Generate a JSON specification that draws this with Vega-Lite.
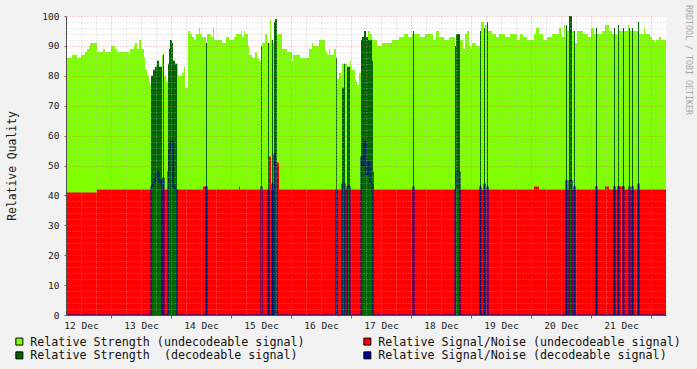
{
  "$schema": "https://vega.github.io/schema/vega-lite/v6.json",
  "width": 600,
  "height": 299,
  "autosize": {"type": "none"},
  "padding": {"left": 66, "top": 16, "right": 31, "bottom": 54},
  "background": "#f2f2f2",
  "view": {"fill": "#ffffff", "stroke": null},
  "config": {"font": "DejaVu Sans Mono"},
  "title": {
    "text": "RRDTOOL / TOBI OETIKER",
    "orient": "right",
    "anchor": "start",
    "font": "DejaVu Sans Mono",
    "fontSize": 8.3,
    "fontWeight": "normal",
    "color": "#a8a8a8",
    "offset": 3,
    "dx": -6
  },
  "data": {
    "values": [
      {"t": "2011-12-12T06:00", "strength": 86, "snr": 41, "dec_strength": 0, "dec_snr": 0},
      {"t": "2011-12-12T08:24", "strength": 87, "snr": 41, "dec_strength": 0, "dec_snr": 0},
      {"t": "2011-12-12T10:24", "strength": 86, "snr": 41, "dec_strength": 0, "dec_snr": 0},
      {"t": "2011-12-12T12:00", "strength": 87, "snr": 41, "dec_strength": 0, "dec_snr": 0},
      {"t": "2011-12-12T13:36", "strength": 88, "snr": 41, "dec_strength": 0, "dec_snr": 0},
      {"t": "2011-12-12T14:24", "strength": 89, "snr": 41, "dec_strength": 0, "dec_snr": 0},
      {"t": "2011-12-12T15:12", "strength": 90, "snr": 41, "dec_strength": 0, "dec_snr": 0},
      {"t": "2011-12-12T15:36", "strength": 91, "snr": 41, "dec_strength": 0, "dec_snr": 0},
      {"t": "2011-12-12T18:24", "strength": 88, "snr": 42, "dec_strength": 0, "dec_snr": 0},
      {"t": "2011-12-12T20:48", "strength": 89, "snr": 42, "dec_strength": 0, "dec_snr": 0},
      {"t": "2011-12-12T21:36", "strength": 88, "snr": 42, "dec_strength": 0, "dec_snr": 0},
      {"t": "2011-12-13T00:00", "strength": 90, "snr": 42, "dec_strength": 0, "dec_snr": 0},
      {"t": "2011-12-13T01:36", "strength": 89, "snr": 42, "dec_strength": 0, "dec_snr": 0},
      {"t": "2011-12-13T02:24", "strength": 88, "snr": 42, "dec_strength": 0, "dec_snr": 0},
      {"t": "2011-12-13T07:12", "strength": 87, "snr": 42, "dec_strength": 0, "dec_snr": 0},
      {"t": "2011-12-13T07:36", "strength": 89, "snr": 42, "dec_strength": 0, "dec_snr": 0},
      {"t": "2011-12-13T09:12", "strength": 90, "snr": 42, "dec_strength": 0, "dec_snr": 0},
      {"t": "2011-12-13T09:36", "strength": 91, "snr": 42, "dec_strength": 0, "dec_snr": 0},
      {"t": "2011-12-13T10:24", "strength": 89, "snr": 42, "dec_strength": 0, "dec_snr": 0},
      {"t": "2011-12-13T11:12", "strength": 92, "snr": 42, "dec_strength": 0, "dec_snr": 0},
      {"t": "2011-12-13T12:00", "strength": 89, "snr": 42, "dec_strength": 0, "dec_snr": 0},
      {"t": "2011-12-13T13:12", "strength": 86, "snr": 42, "dec_strength": 0, "dec_snr": 0},
      {"t": "2011-12-13T13:36", "strength": 82, "snr": 42, "dec_strength": 0, "dec_snr": 0},
      {"t": "2011-12-13T14:24", "strength": 80, "snr": 42, "dec_strength": 0, "dec_snr": 0},
      {"t": "2011-12-13T15:12", "strength": 78, "snr": 42, "dec_strength": 0, "dec_snr": 0},
      {"t": "2011-12-13T15:36", "strength": 77, "snr": 42, "dec_strength": 0, "dec_snr": 0},
      {"t": "2011-12-13T16:00", "strength": 80, "snr": 42, "dec_strength": 80, "dec_snr": 43},
      {"t": "2011-12-13T16:48", "strength": 82, "snr": 42, "dec_strength": 82, "dec_snr": 44},
      {"t": "2011-12-13T17:36", "strength": 83, "snr": 42, "dec_strength": 83, "dec_snr": 46},
      {"t": "2011-12-13T18:24", "strength": 85, "snr": 42, "dec_strength": 85, "dec_snr": 48},
      {"t": "2011-12-13T19:12", "strength": 83, "snr": 42, "dec_strength": 83, "dec_snr": 44},
      {"t": "2011-12-13T20:00", "strength": 83, "snr": 42, "dec_strength": 83, "dec_snr": 45},
      {"t": "2011-12-13T20:24", "strength": 87, "snr": 42, "dec_strength": 0, "dec_snr": 0},
      {"t": "2011-12-13T20:48", "strength": 87, "snr": 42, "dec_strength": 87, "dec_snr": 46},
      {"t": "2011-12-13T21:12", "strength": 80, "snr": 42, "dec_strength": 0, "dec_snr": 0},
      {"t": "2011-12-13T22:00", "strength": 78, "snr": 42, "dec_strength": 0, "dec_snr": 0},
      {"t": "2011-12-13T22:48", "strength": 84, "snr": 42, "dec_strength": 84, "dec_snr": 48},
      {"t": "2011-12-13T23:12", "strength": 89, "snr": 42, "dec_strength": 89, "dec_snr": 55},
      {"t": "2011-12-13T23:36", "strength": 92, "snr": 42, "dec_strength": 92, "dec_snr": 58},
      {"t": "2011-12-14T00:24", "strength": 91, "snr": 42, "dec_strength": 91, "dec_snr": 58},
      {"t": "2011-12-14T00:48", "strength": 85, "snr": 42, "dec_strength": 85, "dec_snr": 43},
      {"t": "2011-12-14T01:36", "strength": 84, "snr": 42, "dec_strength": 84, "dec_snr": 42},
      {"t": "2011-12-14T02:24", "strength": 84, "snr": 42, "dec_strength": 0, "dec_snr": 0},
      {"t": "2011-12-14T02:48", "strength": 80, "snr": 42, "dec_strength": 0, "dec_snr": 0},
      {"t": "2011-12-14T04:24", "strength": 81, "snr": 42, "dec_strength": 0, "dec_snr": 0},
      {"t": "2011-12-14T05:12", "strength": 83, "snr": 42, "dec_strength": 0, "dec_snr": 0},
      {"t": "2011-12-14T05:36", "strength": 76, "snr": 42, "dec_strength": 0, "dec_snr": 0},
      {"t": "2011-12-14T06:48", "strength": 95, "snr": 42, "dec_strength": 0, "dec_snr": 0},
      {"t": "2011-12-14T07:36", "strength": 94, "snr": 42, "dec_strength": 0, "dec_snr": 0},
      {"t": "2011-12-14T08:24", "strength": 93, "snr": 42, "dec_strength": 0, "dec_snr": 0},
      {"t": "2011-12-14T09:12", "strength": 92, "snr": 42, "dec_strength": 0, "dec_snr": 0},
      {"t": "2011-12-14T10:00", "strength": 94, "snr": 42, "dec_strength": 0, "dec_snr": 0},
      {"t": "2011-12-14T11:12", "strength": 96, "snr": 42, "dec_strength": 0, "dec_snr": 0},
      {"t": "2011-12-14T11:36", "strength": 94, "snr": 42, "dec_strength": 0, "dec_snr": 0},
      {"t": "2011-12-14T12:24", "strength": 93, "snr": 42, "dec_strength": 0, "dec_snr": 0},
      {"t": "2011-12-14T12:48", "strength": 93, "snr": 43, "dec_strength": 0, "dec_snr": 0},
      {"t": "2011-12-14T14:00", "strength": 91, "snr": 43, "dec_strength": 91, "dec_snr": 43},
      {"t": "2011-12-14T14:24", "strength": 94, "snr": 42, "dec_strength": 0, "dec_snr": 0},
      {"t": "2011-12-14T16:00", "strength": 93, "snr": 42, "dec_strength": 0, "dec_snr": 0},
      {"t": "2011-12-14T16:48", "strength": 96, "snr": 42, "dec_strength": 0, "dec_snr": 0},
      {"t": "2011-12-14T17:12", "strength": 92, "snr": 42, "dec_strength": 0, "dec_snr": 0},
      {"t": "2011-12-14T20:24", "strength": 91, "snr": 42, "dec_strength": 0, "dec_snr": 0},
      {"t": "2011-12-14T22:00", "strength": 93, "snr": 42, "dec_strength": 0, "dec_snr": 0},
      {"t": "2011-12-14T23:12", "strength": 92, "snr": 42, "dec_strength": 0, "dec_snr": 0},
      {"t": "2011-12-15T01:12", "strength": 93, "snr": 42, "dec_strength": 0, "dec_snr": 0},
      {"t": "2011-12-15T02:00", "strength": 94, "snr": 42, "dec_strength": 0, "dec_snr": 0},
      {"t": "2011-12-15T03:12", "strength": 94, "snr": 43, "dec_strength": 0, "dec_snr": 0},
      {"t": "2011-12-15T03:36", "strength": 94, "snr": 42, "dec_strength": 0, "dec_snr": 0},
      {"t": "2011-12-15T04:00", "strength": 95, "snr": 42, "dec_strength": 0, "dec_snr": 0},
      {"t": "2011-12-15T04:24", "strength": 93, "snr": 42, "dec_strength": 0, "dec_snr": 0},
      {"t": "2011-12-15T05:12", "strength": 95, "snr": 42, "dec_strength": 0, "dec_snr": 0},
      {"t": "2011-12-15T05:36", "strength": 94, "snr": 42, "dec_strength": 0, "dec_snr": 0},
      {"t": "2011-12-15T06:48", "strength": 90, "snr": 42, "dec_strength": 0, "dec_snr": 0},
      {"t": "2011-12-15T07:12", "strength": 87, "snr": 42, "dec_strength": 0, "dec_snr": 0},
      {"t": "2011-12-15T08:24", "strength": 86, "snr": 42, "dec_strength": 0, "dec_snr": 0},
      {"t": "2011-12-15T09:36", "strength": 88, "snr": 42, "dec_strength": 0, "dec_snr": 0},
      {"t": "2011-12-15T10:24", "strength": 86, "snr": 42, "dec_strength": 0, "dec_snr": 0},
      {"t": "2011-12-15T11:12", "strength": 85, "snr": 42, "dec_strength": 0, "dec_snr": 0},
      {"t": "2011-12-15T12:00", "strength": 90, "snr": 42, "dec_strength": 90, "dec_snr": 43},
      {"t": "2011-12-15T12:24", "strength": 91, "snr": 42, "dec_strength": 0, "dec_snr": 0},
      {"t": "2011-12-15T13:36", "strength": 94, "snr": 42, "dec_strength": 0, "dec_snr": 0},
      {"t": "2011-12-15T14:24", "strength": 91, "snr": 42, "dec_strength": 0, "dec_snr": 0},
      {"t": "2011-12-15T14:48", "strength": 91, "snr": 42, "dec_strength": 91, "dec_snr": 42},
      {"t": "2011-12-15T15:12", "strength": 91, "snr": 53, "dec_strength": 0, "dec_snr": 0},
      {"t": "2011-12-15T15:36", "strength": 99, "snr": 53, "dec_strength": 0, "dec_snr": 0},
      {"t": "2011-12-15T16:00", "strength": 92, "snr": 42, "dec_strength": 0, "dec_snr": 0},
      {"t": "2011-12-15T16:24", "strength": 92, "snr": 42, "dec_strength": 92, "dec_snr": 44},
      {"t": "2011-12-15T16:48", "strength": 91, "snr": 42, "dec_strength": 0, "dec_snr": 0},
      {"t": "2011-12-15T17:12", "strength": 98, "snr": 42, "dec_strength": 98, "dec_snr": 54},
      {"t": "2011-12-15T17:36", "strength": 99, "snr": 42, "dec_strength": 99, "dec_snr": 50},
      {"t": "2011-12-15T18:24", "strength": 94, "snr": 51, "dec_strength": 0, "dec_snr": 0},
      {"t": "2011-12-15T19:12", "strength": 94, "snr": 42, "dec_strength": 0, "dec_snr": 0},
      {"t": "2011-12-15T20:24", "strength": 89, "snr": 42, "dec_strength": 0, "dec_snr": 0},
      {"t": "2011-12-15T22:24", "strength": 88, "snr": 42, "dec_strength": 0, "dec_snr": 0},
      {"t": "2011-12-16T00:24", "strength": 85, "snr": 42, "dec_strength": 0, "dec_snr": 0},
      {"t": "2011-12-16T00:48", "strength": 87, "snr": 42, "dec_strength": 0, "dec_snr": 0},
      {"t": "2011-12-16T03:36", "strength": 86, "snr": 42, "dec_strength": 0, "dec_snr": 0},
      {"t": "2011-12-16T07:12", "strength": 89, "snr": 42, "dec_strength": 0, "dec_snr": 0},
      {"t": "2011-12-16T08:24", "strength": 91, "snr": 42, "dec_strength": 0, "dec_snr": 0},
      {"t": "2011-12-16T08:48", "strength": 90, "snr": 42, "dec_strength": 0, "dec_snr": 0},
      {"t": "2011-12-16T11:12", "strength": 92, "snr": 42, "dec_strength": 0, "dec_snr": 0},
      {"t": "2011-12-16T13:36", "strength": 88, "snr": 42, "dec_strength": 0, "dec_snr": 0},
      {"t": "2011-12-16T14:24", "strength": 87, "snr": 42, "dec_strength": 0, "dec_snr": 0},
      {"t": "2011-12-16T15:12", "strength": 89, "snr": 42, "dec_strength": 0, "dec_snr": 0},
      {"t": "2011-12-16T15:36", "strength": 87, "snr": 42, "dec_strength": 0, "dec_snr": 0},
      {"t": "2011-12-16T17:12", "strength": 89, "snr": 42, "dec_strength": 0, "dec_snr": 0},
      {"t": "2011-12-16T18:00", "strength": 86, "snr": 42, "dec_strength": 86, "dec_snr": 42},
      {"t": "2011-12-16T18:24", "strength": 79, "snr": 42, "dec_strength": 0, "dec_snr": 0},
      {"t": "2011-12-16T19:12", "strength": 81, "snr": 42, "dec_strength": 0, "dec_snr": 0},
      {"t": "2011-12-16T20:00", "strength": 80, "snr": 42, "dec_strength": 0, "dec_snr": 0},
      {"t": "2011-12-16T20:24", "strength": 84, "snr": 42, "dec_strength": 76, "dec_snr": 44},
      {"t": "2011-12-16T21:12", "strength": 84, "snr": 42, "dec_strength": 84, "dec_snr": 44},
      {"t": "2011-12-16T21:36", "strength": 84, "snr": 42, "dec_strength": 0, "dec_snr": 0},
      {"t": "2011-12-16T22:24", "strength": 83, "snr": 42, "dec_strength": 83, "dec_snr": 43},
      {"t": "2011-12-16T23:36", "strength": 85, "snr": 42, "dec_strength": 0, "dec_snr": 0},
      {"t": "2011-12-17T00:00", "strength": 82, "snr": 42, "dec_strength": 0, "dec_snr": 0},
      {"t": "2011-12-17T01:36", "strength": 79, "snr": 42, "dec_strength": 0, "dec_snr": 0},
      {"t": "2011-12-17T02:00", "strength": 78, "snr": 42, "dec_strength": 0, "dec_snr": 0},
      {"t": "2011-12-17T02:24", "strength": 77, "snr": 42, "dec_strength": 0, "dec_snr": 0},
      {"t": "2011-12-17T03:12", "strength": 81, "snr": 42, "dec_strength": 0, "dec_snr": 0},
      {"t": "2011-12-17T04:00", "strength": 92, "snr": 42, "dec_strength": 92, "dec_snr": 53},
      {"t": "2011-12-17T04:24", "strength": 93, "snr": 42, "dec_strength": 93, "dec_snr": 50},
      {"t": "2011-12-17T05:12", "strength": 95, "snr": 42, "dec_strength": 95, "dec_snr": 58},
      {"t": "2011-12-17T06:00", "strength": 93, "snr": 42, "dec_strength": 93, "dec_snr": 47},
      {"t": "2011-12-17T06:48", "strength": 95, "snr": 42, "dec_strength": 92, "dec_snr": 51},
      {"t": "2011-12-17T07:36", "strength": 94, "snr": 42, "dec_strength": 92, "dec_snr": 44},
      {"t": "2011-12-17T08:24", "strength": 92, "snr": 42, "dec_strength": 85, "dec_snr": 44},
      {"t": "2011-12-17T08:48", "strength": 92, "snr": 48, "dec_strength": 0, "dec_snr": 0},
      {"t": "2011-12-17T09:12", "strength": 92, "snr": 42, "dec_strength": 0, "dec_snr": 0},
      {"t": "2011-12-17T10:24", "strength": 90, "snr": 42, "dec_strength": 0, "dec_snr": 0},
      {"t": "2011-12-17T12:24", "strength": 91, "snr": 42, "dec_strength": 0, "dec_snr": 0},
      {"t": "2011-12-17T16:24", "strength": 92, "snr": 42, "dec_strength": 0, "dec_snr": 0},
      {"t": "2011-12-17T19:12", "strength": 93, "snr": 42, "dec_strength": 0, "dec_snr": 0},
      {"t": "2011-12-17T21:12", "strength": 94, "snr": 42, "dec_strength": 0, "dec_snr": 0},
      {"t": "2011-12-17T22:48", "strength": 93, "snr": 42, "dec_strength": 0, "dec_snr": 0},
      {"t": "2011-12-18T00:24", "strength": 94, "snr": 42, "dec_strength": 0, "dec_snr": 0},
      {"t": "2011-12-18T00:48", "strength": 95, "snr": 42, "dec_strength": 95, "dec_snr": 43},
      {"t": "2011-12-18T01:12", "strength": 94, "snr": 42, "dec_strength": 0, "dec_snr": 0},
      {"t": "2011-12-18T03:36", "strength": 93, "snr": 42, "dec_strength": 0, "dec_snr": 0},
      {"t": "2011-12-18T05:36", "strength": 94, "snr": 42, "dec_strength": 0, "dec_snr": 0},
      {"t": "2011-12-18T08:48", "strength": 92, "snr": 42, "dec_strength": 0, "dec_snr": 0},
      {"t": "2011-12-18T10:00", "strength": 95, "snr": 42, "dec_strength": 0, "dec_snr": 0},
      {"t": "2011-12-18T11:12", "strength": 93, "snr": 42, "dec_strength": 0, "dec_snr": 0},
      {"t": "2011-12-18T13:12", "strength": 92, "snr": 42, "dec_strength": 0, "dec_snr": 0},
      {"t": "2011-12-18T15:12", "strength": 93, "snr": 42, "dec_strength": 0, "dec_snr": 0},
      {"t": "2011-12-18T17:36", "strength": 90, "snr": 42, "dec_strength": 90, "dec_snr": 42},
      {"t": "2011-12-18T18:00", "strength": 94, "snr": 42, "dec_strength": 94, "dec_snr": 48},
      {"t": "2011-12-18T19:36", "strength": 92, "snr": 42, "dec_strength": 0, "dec_snr": 0},
      {"t": "2011-12-18T20:48", "strength": 89, "snr": 42, "dec_strength": 0, "dec_snr": 0},
      {"t": "2011-12-18T21:36", "strength": 94, "snr": 42, "dec_strength": 0, "dec_snr": 0},
      {"t": "2011-12-18T22:24", "strength": 95, "snr": 42, "dec_strength": 0, "dec_snr": 0},
      {"t": "2011-12-18T23:12", "strength": 90, "snr": 42, "dec_strength": 0, "dec_snr": 0},
      {"t": "2011-12-19T00:00", "strength": 89, "snr": 42, "dec_strength": 0, "dec_snr": 0},
      {"t": "2011-12-19T00:24", "strength": 91, "snr": 42, "dec_strength": 0, "dec_snr": 0},
      {"t": "2011-12-19T02:00", "strength": 90, "snr": 42, "dec_strength": 0, "dec_snr": 0},
      {"t": "2011-12-19T03:36", "strength": 95, "snr": 42, "dec_strength": 95, "dec_snr": 43},
      {"t": "2011-12-19T04:00", "strength": 98, "snr": 42, "dec_strength": 0, "dec_snr": 0},
      {"t": "2011-12-19T05:12", "strength": 96, "snr": 42, "dec_strength": 96, "dec_snr": 44},
      {"t": "2011-12-19T05:36", "strength": 97, "snr": 42, "dec_strength": 0, "dec_snr": 0},
      {"t": "2011-12-19T06:24", "strength": 98, "snr": 42, "dec_strength": 98, "dec_snr": 43},
      {"t": "2011-12-19T06:48", "strength": 95, "snr": 42, "dec_strength": 0, "dec_snr": 0},
      {"t": "2011-12-19T08:24", "strength": 94, "snr": 42, "dec_strength": 0, "dec_snr": 0},
      {"t": "2011-12-19T10:00", "strength": 93, "snr": 42, "dec_strength": 0, "dec_snr": 0},
      {"t": "2011-12-19T11:12", "strength": 94, "snr": 42, "dec_strength": 0, "dec_snr": 0},
      {"t": "2011-12-19T13:36", "strength": 93, "snr": 42, "dec_strength": 0, "dec_snr": 0},
      {"t": "2011-12-19T15:36", "strength": 94, "snr": 42, "dec_strength": 0, "dec_snr": 0},
      {"t": "2011-12-19T18:24", "strength": 92, "snr": 42, "dec_strength": 0, "dec_snr": 0},
      {"t": "2011-12-19T19:36", "strength": 94, "snr": 42, "dec_strength": 0, "dec_snr": 0},
      {"t": "2011-12-19T20:48", "strength": 93, "snr": 42, "dec_strength": 0, "dec_snr": 0},
      {"t": "2011-12-19T22:24", "strength": 92, "snr": 42, "dec_strength": 0, "dec_snr": 0},
      {"t": "2011-12-20T01:12", "strength": 94, "snr": 43, "dec_strength": 0, "dec_snr": 0},
      {"t": "2011-12-20T02:00", "strength": 96, "snr": 43, "dec_strength": 0, "dec_snr": 0},
      {"t": "2011-12-20T03:12", "strength": 94, "snr": 42, "dec_strength": 0, "dec_snr": 0},
      {"t": "2011-12-20T04:48", "strength": 92, "snr": 42, "dec_strength": 0, "dec_snr": 0},
      {"t": "2011-12-20T06:24", "strength": 93, "snr": 42, "dec_strength": 0, "dec_snr": 0},
      {"t": "2011-12-20T08:24", "strength": 94, "snr": 42, "dec_strength": 0, "dec_snr": 0},
      {"t": "2011-12-20T11:12", "strength": 96, "snr": 42, "dec_strength": 0, "dec_snr": 0},
      {"t": "2011-12-20T12:00", "strength": 94, "snr": 42, "dec_strength": 0, "dec_snr": 0},
      {"t": "2011-12-20T12:24", "strength": 93, "snr": 42, "dec_strength": 0, "dec_snr": 0},
      {"t": "2011-12-20T13:12", "strength": 97, "snr": 42, "dec_strength": 0, "dec_snr": 0},
      {"t": "2011-12-20T13:36", "strength": 93, "snr": 42, "dec_strength": 0, "dec_snr": 0},
      {"t": "2011-12-20T14:00", "strength": 97, "snr": 42, "dec_strength": 97, "dec_snr": 45},
      {"t": "2011-12-20T14:24", "strength": 95, "snr": 42, "dec_strength": 0, "dec_snr": 0},
      {"t": "2011-12-20T15:12", "strength": 100, "snr": 42, "dec_strength": 100, "dec_snr": 45},
      {"t": "2011-12-20T16:24", "strength": 95, "snr": 42, "dec_strength": 0, "dec_snr": 0},
      {"t": "2011-12-20T17:12", "strength": 95, "snr": 42, "dec_strength": 95, "dec_snr": 43},
      {"t": "2011-12-20T17:36", "strength": 91, "snr": 42, "dec_strength": 0, "dec_snr": 0},
      {"t": "2011-12-20T18:24", "strength": 95, "snr": 42, "dec_strength": 0, "dec_snr": 0},
      {"t": "2011-12-20T20:48", "strength": 94, "snr": 42, "dec_strength": 0, "dec_snr": 0},
      {"t": "2011-12-20T22:48", "strength": 93, "snr": 42, "dec_strength": 0, "dec_snr": 0},
      {"t": "2011-12-21T00:00", "strength": 96, "snr": 42, "dec_strength": 0, "dec_snr": 0},
      {"t": "2011-12-21T01:12", "strength": 94, "snr": 42, "dec_strength": 0, "dec_snr": 0},
      {"t": "2011-12-21T02:00", "strength": 96, "snr": 42, "dec_strength": 96, "dec_snr": 43},
      {"t": "2011-12-21T02:24", "strength": 94, "snr": 42, "dec_strength": 0, "dec_snr": 0},
      {"t": "2011-12-21T04:24", "strength": 95, "snr": 42, "dec_strength": 0, "dec_snr": 0},
      {"t": "2011-12-21T05:36", "strength": 97, "snr": 43, "dec_strength": 0, "dec_snr": 0},
      {"t": "2011-12-21T07:12", "strength": 95, "snr": 42, "dec_strength": 0, "dec_snr": 0},
      {"t": "2011-12-21T08:24", "strength": 94, "snr": 42, "dec_strength": 0, "dec_snr": 0},
      {"t": "2011-12-21T09:12", "strength": 96, "snr": 42, "dec_strength": 96, "dec_snr": 43},
      {"t": "2011-12-21T09:36", "strength": 94, "snr": 42, "dec_strength": 0, "dec_snr": 0},
      {"t": "2011-12-21T10:48", "strength": 97, "snr": 42, "dec_strength": 97, "dec_snr": 43},
      {"t": "2011-12-21T11:12", "strength": 95, "snr": 43, "dec_strength": 0, "dec_snr": 0},
      {"t": "2011-12-21T12:48", "strength": 96, "snr": 43, "dec_strength": 96, "dec_snr": 43},
      {"t": "2011-12-21T13:12", "strength": 95, "snr": 42, "dec_strength": 0, "dec_snr": 0},
      {"t": "2011-12-21T14:48", "strength": 97, "snr": 42, "dec_strength": 0, "dec_snr": 0},
      {"t": "2011-12-21T15:12", "strength": 96, "snr": 42, "dec_strength": 96, "dec_snr": 43},
      {"t": "2011-12-21T15:36", "strength": 95, "snr": 42, "dec_strength": 0, "dec_snr": 0},
      {"t": "2011-12-21T16:24", "strength": 96, "snr": 42, "dec_strength": 96, "dec_snr": 43},
      {"t": "2011-12-21T16:48", "strength": 95, "snr": 42, "dec_strength": 0, "dec_snr": 0},
      {"t": "2011-12-21T18:48", "strength": 98, "snr": 42, "dec_strength": 98, "dec_snr": 44},
      {"t": "2011-12-21T19:12", "strength": 94, "snr": 42, "dec_strength": 0, "dec_snr": 0},
      {"t": "2011-12-21T21:12", "strength": 96, "snr": 42, "dec_strength": 0, "dec_snr": 0},
      {"t": "2011-12-21T21:36", "strength": 94, "snr": 42, "dec_strength": 0, "dec_snr": 0},
      {"t": "2011-12-21T23:36", "strength": 93, "snr": 42, "dec_strength": 0, "dec_snr": 0},
      {"t": "2011-12-22T00:24", "strength": 92, "snr": 42, "dec_strength": 0, "dec_snr": 0},
      {"t": "2011-12-22T01:36", "strength": 91, "snr": 42, "dec_strength": 0, "dec_snr": 0},
      {"t": "2011-12-22T02:00", "strength": 92, "snr": 42, "dec_strength": 0, "dec_snr": 0},
      {"t": "2011-12-22T03:12", "strength": 93, "snr": 42, "dec_strength": 0, "dec_snr": 0},
      {"t": "2011-12-22T04:00", "strength": 92, "snr": 42, "dec_strength": 0, "dec_snr": 0},
      {"t": "2011-12-22T06:00", "strength": 92, "snr": 42, "dec_strength": 0, "dec_snr": 0}
    ]
  },
  "encoding": {
    "x": {
      "field": "t",
      "type": "temporal",
      "title": null,
      "scale": {
        "domain": [
          {"year": 2011, "month": 12, "date": 12, "hours": 6},
          {"year": 2011, "month": 12, "date": 22, "hours": 6}
        ],
        "nice": false
      },
      "axis": {
        "values": [
          {"year": 2011, "month": 12, "date": 12, "hours": 6}, {"year": 2011, "month": 12, "date": 12, "hours": 12}, {"year": 2011, "month": 12, "date": 12, "hours": 18},
          {"year": 2011, "month": 12, "date": 13, "hours": 0}, {"year": 2011, "month": 12, "date": 13, "hours": 6}, {"year": 2011, "month": 12, "date": 13, "hours": 12}, {"year": 2011, "month": 12, "date": 13, "hours": 18},
          {"year": 2011, "month": 12, "date": 14, "hours": 0}, {"year": 2011, "month": 12, "date": 14, "hours": 6}, {"year": 2011, "month": 12, "date": 14, "hours": 12}, {"year": 2011, "month": 12, "date": 14, "hours": 18},
          {"year": 2011, "month": 12, "date": 15, "hours": 0}, {"year": 2011, "month": 12, "date": 15, "hours": 6}, {"year": 2011, "month": 12, "date": 15, "hours": 12}, {"year": 2011, "month": 12, "date": 15, "hours": 18},
          {"year": 2011, "month": 12, "date": 16, "hours": 0}, {"year": 2011, "month": 12, "date": 16, "hours": 6}, {"year": 2011, "month": 12, "date": 16, "hours": 12}, {"year": 2011, "month": 12, "date": 16, "hours": 18},
          {"year": 2011, "month": 12, "date": 17, "hours": 0}, {"year": 2011, "month": 12, "date": 17, "hours": 6}, {"year": 2011, "month": 12, "date": 17, "hours": 12}, {"year": 2011, "month": 12, "date": 17, "hours": 18},
          {"year": 2011, "month": 12, "date": 18, "hours": 0}, {"year": 2011, "month": 12, "date": 18, "hours": 6}, {"year": 2011, "month": 12, "date": 18, "hours": 12}, {"year": 2011, "month": 12, "date": 18, "hours": 18},
          {"year": 2011, "month": 12, "date": 19, "hours": 0}, {"year": 2011, "month": 12, "date": 19, "hours": 6}, {"year": 2011, "month": 12, "date": 19, "hours": 12}, {"year": 2011, "month": 12, "date": 19, "hours": 18},
          {"year": 2011, "month": 12, "date": 20, "hours": 0}, {"year": 2011, "month": 12, "date": 20, "hours": 6}, {"year": 2011, "month": 12, "date": 20, "hours": 12}, {"year": 2011, "month": 12, "date": 20, "hours": 18},
          {"year": 2011, "month": 12, "date": 21, "hours": 0}, {"year": 2011, "month": 12, "date": 21, "hours": 6}, {"year": 2011, "month": 12, "date": 21, "hours": 12}, {"year": 2011, "month": 12, "date": 21, "hours": 18},
          {"year": 2011, "month": 12, "date": 22, "hours": 0}
        ],
        "grid": true,
        "gridColor": {"condition": {"test": "hours(datum.value) === 0", "value": "#e07070"}, "value": "#b0b0b0"},
        "gridDash": [1, 2],
        "gridWidth": 1,
        "gridOpacity": 0.6,
        "ticks": true,
        "tickSize": 3,
        "tickColor": {"condition": {"test": "hours(datum.value) === 0", "value": "#c04040"}, "value": "transparent"},
        "domainColor": "#505050",
        "labelExpr": "hours(datum.value) === 12 ? timeFormat(datum.value, '%d %b') : ''",
        "labelFont": "DejaVu Sans Mono",
        "labelFontSize": 9.5,
        "labelColor": "#202020",
        "labelPadding": 2,
        "labelOverlap": false,
        "labelFlush": false,
        "labelBound": false,
        "zindex": 1
      }
    }
  },
  "layer": [
    {
      "mark": {"type": "area", "interpolate": "step-after"},
      "encoding": {
        "y": {
          "field": "strength",
          "type": "quantitative",
          "title": "Relative Quality",
          "scale": {"domain": [0, 100], "nice": false},
          "axis": {
            "values": [0, 2, 4, 6, 8, 10, 12, 14, 16, 18, 20, 22, 24, 26, 28, 30, 32, 34, 36, 38, 40, 42, 44, 46, 48, 50, 52, 54, 56, 58, 60, 62, 64, 66, 68, 70, 72, 74, 76, 78, 80, 82, 84, 86, 88, 90, 92, 94, 96, 98, 100],
            "grid": true,
            "gridColor": {"condition": {"test": "datum.value % 10 === 0", "value": "#e07070"}, "value": "#b0b0b0"},
            "gridDash": [1, 2],
            "gridOpacity": 0.6,
            "ticks": true,
            "tickSize": 2,
            "tickColor": {"condition": {"test": "datum.value % 10 === 0", "value": "#c04040"}, "value": "transparent"},
            "domainColor": "#505050",
            "labelExpr": "datum.value % 10 === 0 ? datum.label : ''",
            "labelFont": "DejaVu Sans Mono",
            "labelFontSize": 9.5,
            "labelColor": "#202020",
            "labelPadding": 5,
            "labelOverlap": false,
            "labelFlush": false,
            "labelBound": false,
            "titleFont": "DejaVu Sans Mono",
            "titleFontSize": 11.4,
            "titleFontWeight": "normal",
            "titleColor": "#202020",
            "titlePadding": 24,
            "zindex": 1
          }
        },
        "color": {
          "datum": "Relative Strength (undecodeable signal)",
          "type": "nominal",
          "scale": {
            "domain": [
              "Relative Strength (undecodeable signal)",
              "Relative Strength\u00a0 (decodeable signal)",
              "Relative Signal/Noise (undecodeable signal)",
              "Relative Signal/Noise (decodeable signal)"
            ],
            "range": ["#80ff00", "#006600", "#ff0000", "#00009c"]
          },
          "legend": {
            "orient": "none",
            "legendX": -52.5,
            "legendY": 319.5,
            "columns": 2,
            "columnPadding": 56,
            "rowPadding": 1,
            "title": null,
            "symbolType": "square",
            "symbolSize": 49,
            "symbolStrokeColor": "#000000",
            "symbolStrokeWidth": 1,
            "symbolOpacity": 1,
            "labelFont": "DejaVu Sans Mono",
            "labelFontSize": 11.7,
            "labelColor": "#101010",
            "labelOffset": 5,
            "labelLimit": 0
          }
        }
      }
    },
    {
      "mark": {"type": "area", "interpolate": "step-after"},
      "encoding": {
        "y": {
          "field": "snr",
          "type": "quantitative",
          "title": "Relative Quality",
          "axis": {
            "values": [0, 2, 4, 6, 8, 10, 12, 14, 16, 18, 20, 22, 24, 26, 28, 30, 32, 34, 36, 38, 40, 42, 44, 46, 48, 50, 52, 54, 56, 58, 60, 62, 64, 66, 68, 70, 72, 74, 76, 78, 80, 82, 84, 86, 88, 90, 92, 94, 96, 98, 100],
            "grid": true,
            "gridColor": {"condition": {"test": "datum.value % 10 === 0", "value": "#e07070"}, "value": "#b0b0b0"},
            "gridDash": [1, 2],
            "gridOpacity": 0.6,
            "ticks": true,
            "tickSize": 2,
            "tickColor": {"condition": {"test": "datum.value % 10 === 0", "value": "#c04040"}, "value": "transparent"},
            "domainColor": "#505050",
            "labelExpr": "datum.value % 10 === 0 ? datum.label : ''",
            "labelFont": "DejaVu Sans Mono",
            "labelFontSize": 9.5,
            "labelColor": "#202020",
            "labelPadding": 5,
            "labelOverlap": false,
            "labelFlush": false,
            "labelBound": false,
            "titleFont": "DejaVu Sans Mono",
            "titleFontSize": 11.4,
            "titleFontWeight": "normal",
            "titleColor": "#202020",
            "titlePadding": 24,
            "zindex": 1
          }
        },
        "color": {"datum": "Relative Signal/Noise (undecodeable signal)", "type": "nominal"}
      }
    },
    {
      "mark": {"type": "area", "interpolate": "step-after"},
      "encoding": {
        "y": {
          "field": "dec_strength",
          "type": "quantitative",
          "title": "Relative Quality",
          "axis": {
            "values": [0, 2, 4, 6, 8, 10, 12, 14, 16, 18, 20, 22, 24, 26, 28, 30, 32, 34, 36, 38, 40, 42, 44, 46, 48, 50, 52, 54, 56, 58, 60, 62, 64, 66, 68, 70, 72, 74, 76, 78, 80, 82, 84, 86, 88, 90, 92, 94, 96, 98, 100],
            "grid": true,
            "gridColor": {"condition": {"test": "datum.value % 10 === 0", "value": "#e07070"}, "value": "#b0b0b0"},
            "gridDash": [1, 2],
            "gridOpacity": 0.6,
            "ticks": true,
            "tickSize": 2,
            "tickColor": {"condition": {"test": "datum.value % 10 === 0", "value": "#c04040"}, "value": "transparent"},
            "domainColor": "#505050",
            "labelExpr": "datum.value % 10 === 0 ? datum.label : ''",
            "labelFont": "DejaVu Sans Mono",
            "labelFontSize": 9.5,
            "labelColor": "#202020",
            "labelPadding": 5,
            "labelOverlap": false,
            "labelFlush": false,
            "labelBound": false,
            "titleFont": "DejaVu Sans Mono",
            "titleFontSize": 11.4,
            "titleFontWeight": "normal",
            "titleColor": "#202020",
            "titlePadding": 24,
            "zindex": 1
          }
        },
        "color": {"datum": "Relative Strength\u00a0 (decodeable signal)", "type": "nominal"}
      }
    },
    {
      "mark": {"type": "line", "interpolate": "step-after", "color": "#00009c", "strokeWidth": 1},
      "encoding": {
        "y": {
          "field": "dec_snr",
          "type": "quantitative",
          "title": "Relative Quality",
          "axis": {
            "values": [0, 2, 4, 6, 8, 10, 12, 14, 16, 18, 20, 22, 24, 26, 28, 30, 32, 34, 36, 38, 40, 42, 44, 46, 48, 50, 52, 54, 56, 58, 60, 62, 64, 66, 68, 70, 72, 74, 76, 78, 80, 82, 84, 86, 88, 90, 92, 94, 96, 98, 100],
            "grid": true,
            "gridColor": {"condition": {"test": "datum.value % 10 === 0", "value": "#e07070"}, "value": "#b0b0b0"},
            "gridDash": [1, 2],
            "gridOpacity": 0.6,
            "ticks": true,
            "tickSize": 2,
            "tickColor": {"condition": {"test": "datum.value % 10 === 0", "value": "#c04040"}, "value": "transparent"},
            "domainColor": "#505050",
            "labelExpr": "datum.value % 10 === 0 ? datum.label : ''",
            "labelFont": "DejaVu Sans Mono",
            "labelFontSize": 9.5,
            "labelColor": "#202020",
            "labelPadding": 5,
            "labelOverlap": false,
            "labelFlush": false,
            "labelBound": false,
            "titleFont": "DejaVu Sans Mono",
            "titleFontSize": 11.4,
            "titleFontWeight": "normal",
            "titleColor": "#202020",
            "titlePadding": 24,
            "zindex": 1
          }
        }
      }
    }
  ]
}
